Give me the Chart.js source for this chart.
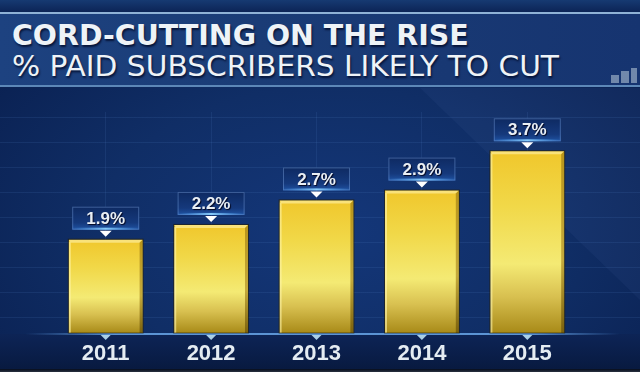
<!DOCTYPE html>
<html>
<head>
<meta charset="utf-8">
<script src="https://cdn.jsdelivr.net/npm/chart.js@4.4.1/dist/chart.umd.min.js"></script>
<style>
  html, body { margin: 0; padding: 0; }
  body { width: 640px; height: 372px; overflow: hidden; background: #0b2150; position: relative; }
  .panel { position: absolute; left: 0; top: 0; width: 640px; height: 372px;
    background: radial-gradient(ellipse 420px 260px at 330px 230px, #14377a 0%, #102e66 55%, #0a2152 100%); }
  .lines { position: absolute; left: 0; top: 93px; width: 640px; height: 240px;
    background: repeating-linear-gradient(180deg, rgba(0,0,0,0) 0px, rgba(0,0,0,0) 24px, rgba(90,140,210,0.13) 24px, rgba(90,140,210,0.13) 25px); }
  .diag { position: absolute; left: 0; top: 0; width: 640px; height: 372px;
    background: rgba(120,160,220,0.06); clip-path: polygon(420px 88px, 640px 88px, 640px 300px); }
  .topband { position: absolute; left: 0; top: 0; width: 640px; height: 12px; background: linear-gradient(#163a72, #0c2456); }
  .banner { position: absolute; left: 0; top: 12px; width: 640px; height: 75px;
    background: linear-gradient(90deg, #1d4280 0%, #1a3c76 40%, #163470 100%);
    border-top: 2px solid #8fb2d6; border-bottom: 2px solid #5d88b8; box-sizing: border-box; }
  .bottom { position: absolute; left: 0; top: 334px; width: 640px; height: 35px; background: linear-gradient(#0d2456, #081a40); }
  .edge { position: absolute; left: 0; top: 369px; width: 640px; height: 3px; background: linear-gradient(#050c1c, #2a3140); }
  .t { position: absolute; left: 12px; white-space: nowrap; transform-origin: 0 0; color: #eef3f7;
    font-family: "DejaVu Sans", sans-serif; line-height: 1; text-shadow: 1px 2px 2px rgba(0,10,40,0.8); }
  #t1 { top: 22px; font-size: 28px; font-weight: bold; }
  #t2 { top: 52px; font-size: 29px; font-weight: normal; }
  .icon { position: absolute; top: 70px; width: 8px; background: rgba(190,205,220,0.55); }
  canvas { position: absolute; left: 0; top: 0; }
</style>
</head>
<body>
<div class="panel"></div>
<div class="lines"></div>
<div class="diag"></div>
<div class="bottom"></div>
<div class="edge"></div>
<div class="topband"></div>
<div class="banner"></div>
<div class="icon" style="left:611px; top:75px; height:8px;"></div>
<div class="icon" style="left:621px; top:71px; height:12px;"></div>
<div class="icon" style="left:631px; top:68px; height:15px; width:6px;"></div>
<div class="t" id="t1">CORD-CUTTING ON THE RISE</div>
<div class="t" id="t2">% PAID SUBSCRIBERS LIKELY TO CUT</div>
<canvas id="myChart" width="640" height="372"></canvas>
<script>
// data
var years = ['2011', '2012', '2013', '2014', '2015'];
var shareLikelyToCut = [1.9, 2.2, 2.7, 2.9, 3.7];
var yMax = 4.5;

// fit the title lines to the widths in the picture
function fitWidth(id, w) {
  var el = document.getElementById(id);
  el.style.transform = 'scaleX(' + (w / el.offsetWidth) + ')';
}
fitWidth('t1', 457);
fitWidth('t2', 547);

function barGradient(context) {
  var chart = context.chart;
  var y = chart.scales.y;
  if (!y || !chart.chartArea) return '#f0c830';
  var top = y.getPixelForValue(context.raw);
  var bottom = y.getPixelForValue(0);
  if (!isFinite(top) || !isFinite(bottom)) return '#f0c830';
  var g = chart.ctx.createLinearGradient(0, top, 0, bottom);
  g.addColorStop(0, '#f0c72c');
  g.addColorStop(0.3, '#f1d848');
  g.addColorStop(0.62, '#f4ea74');
  g.addColorStop(0.8, '#d8c050');
  g.addColorStop(1, '#a88a18');
  return g;
}

var decor = {
  id: 'decor',
  beforeDatasetsDraw: function(chart) {
    var ctx = chart.ctx, a = chart.chartArea;
    ctx.save();
    var g = ctx.createLinearGradient(25, 0, 620, 0);
    g.addColorStop(0, 'rgba(90,150,220,0)');
    g.addColorStop(0.15, 'rgba(100,160,225,0.9)');
    g.addColorStop(0.85, 'rgba(100,160,225,0.9)');
    g.addColorStop(1, 'rgba(90,150,220,0)');
    ctx.fillStyle = g;
    ctx.fillRect(25, a.bottom, 595, 2);
    ctx.restore();
  },
  afterDatasetsDraw: function(chart) {
    var ctx = chart.ctx, a = chart.chartArea;
    var meta = chart.getDatasetMeta(0);
    ctx.save();
    meta.data.forEach(function(bar, i) {
      var half = bar.width / 2;
      var l = bar.x - half, r = bar.x + half, t = bar.y, b = bar.base;
      // bevel: light top, dark right side
      ctx.fillStyle = '#f9e27a';
      ctx.beginPath();
      ctx.moveTo(l, t); ctx.lineTo(r, t); ctx.lineTo(r - 3, t + 3); ctx.lineTo(l + 2, t + 3); ctx.closePath();
      ctx.fill();
      var sg = ctx.createLinearGradient(0, t, 0, b);
      sg.addColorStop(0, '#b8941a'); sg.addColorStop(0.6, '#c4aa3c'); sg.addColorStop(1, '#7a600c');
      ctx.fillStyle = sg;
      ctx.beginPath();
      ctx.moveTo(r, t); ctx.lineTo(r, b); ctx.lineTo(r - 3, b); ctx.lineTo(r - 3, t + 3); ctx.closePath();
      ctx.fill();
      ctx.fillStyle = 'rgba(255,245,170,0.6)';
      ctx.fillRect(l, t + 2, 2, b - t - 2);
      ctx.strokeStyle = 'rgba(40,30,0,0.6)';
      ctx.lineWidth = 1;
      ctx.strokeRect(l - 0.5, t - 0.5, bar.width + 1, b - t + 0.5);

      // tick arrow under baseline
      ctx.fillStyle = '#a9cfe6';
      ctx.beginPath();
      ctx.moveTo(bar.x - 5, a.bottom + 2); ctx.lineTo(bar.x + 5, a.bottom + 2); ctx.lineTo(bar.x, a.bottom + 7); ctx.closePath();
      ctx.fill();

      // value box
      var bw = 67, bh = 23;
      var bx = bar.x - bw / 2, by = t - 10 - bh;
      var bg = ctx.createLinearGradient(0, by, 0, by + bh);
      bg.addColorStop(0, '#0e2a62');
      bg.addColorStop(0.7, '#15397c');
      bg.addColorStop(1, '#1f52a2');
      ctx.fillStyle = bg;
      ctx.fillRect(bx, by, bw, bh);
      ctx.strokeStyle = 'rgba(120,160,220,0.45)';
      ctx.strokeRect(bx + 0.5, by + 0.5, bw - 1, bh - 1);
      var gl = ctx.createLinearGradient(bx, 0, bx + bw, 0);
      gl.addColorStop(0, 'rgba(80,170,255,0)');
      gl.addColorStop(0.5, 'rgba(140,210,255,0.95)');
      gl.addColorStop(1, 'rgba(80,170,255,0)');
      ctx.fillStyle = gl;
      ctx.fillRect(bx, by + bh - 2, bw, 2);
      ctx.fillStyle = '#ffffff';
      ctx.beginPath();
      ctx.moveTo(bar.x - 6, by + bh + 1); ctx.lineTo(bar.x + 6, by + bh + 1); ctx.lineTo(bar.x, by + bh + 7); ctx.closePath();
      ctx.fill();
      ctx.font = 'bold 17px "Liberation Sans", Arial, sans-serif';
      ctx.textAlign = 'center';
      ctx.textBaseline = 'middle';
      ctx.shadowColor = 'rgba(0,0,20,0.9)';
      ctx.shadowOffsetX = 1; ctx.shadowOffsetY = 1; ctx.shadowBlur = 1;
      ctx.fillStyle = '#e9eff4';
      ctx.fillText(shareLikelyToCut[i].toFixed(1) + '%', bar.x, by + bh / 2 + 1);
      ctx.shadowColor = 'transparent';
    });
    ctx.restore();
  }
};

var ctx = document.getElementById('myChart').getContext('2d');
var myChart = new Chart(ctx, {
  type: 'bar',
  data: {
    labels: years,
    datasets: [{
      data: shareLikelyToCut,
      backgroundColor: barGradient,
      borderWidth: 0,
      categoryPercentage: 1,
      barPercentage: 0.7
    }]
  },
  options: {
    responsive: false,
    animation: false,
    layout: { padding: { left: 53, right: 60, top: 112, bottom: 0 } },
    plugins: { legend: { display: false }, tooltip: { enabled: false } },
    scales: {
      x: {
        grid: { display: true, offset: false, drawTicks: false, color: 'rgba(90,140,210,0.13)' },
        border: { display: false },
        ticks: {
          color: '#e4ecf2',
          padding: 10,
          font: { family: '"Liberation Sans", Arial, sans-serif', size: 22, weight: 'bold', lineHeight: 1 }
        },
        afterFit: function(s) { s.height = 39; }
      },
      y: {
        display: false,
        min: 0,
        max: yMax
      }
    }
  },
  plugins: [decor]
});
</script>
</body>
</html>
